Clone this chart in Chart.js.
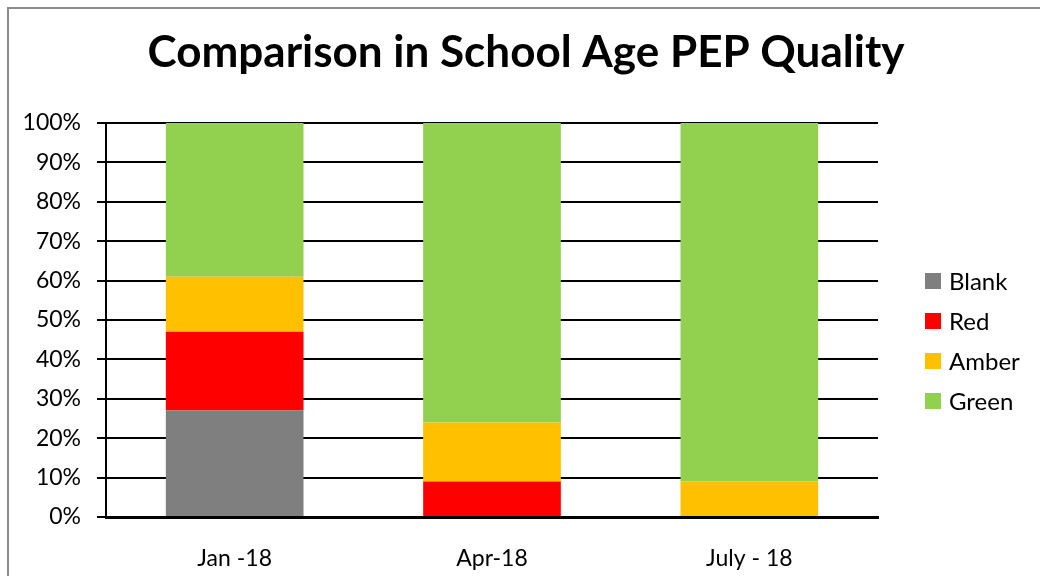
<!DOCTYPE html>
<html>
<head>
<meta charset="utf-8">
<script src="https://cdn.jsdelivr.net/npm/chart.js@4/dist/chart.umd.min.js"></script>
<style>
  html, body { margin: 0; padding: 0; background: #fff; overflow: hidden; }
  #wrap { position: relative; width: 1040px; height: 576px; }
  #frame { position: absolute; left: 7px; top: 7px; width: 1100px; height: 700px; border: 2px solid #8c8c8c; box-sizing: border-box; }
  canvas { position: absolute; left: 0; top: 0; }
</style>
</head>
<body>
<div id="wrap">
  <div id="frame"></div>
  <canvas id="chart" width="1040" height="576"></canvas>
</div>
<script>
const chartTitle = 'Comparison in School Age PEP Quality';
const months = ['Jan -18', 'Apr-18', 'July - 18'];
const seriesNames = ['Blank', 'Red', 'Amber', 'Green'];
const blank = [27, 0, 0];
const red = [20, 9, 0];
const amber = [14, 15, 9];
const green = [39, 76, 91];
const colors = ['#7f7f7f', '#ff0000', '#ffc000', '#92d050'];

const FONT = 'Lato, "Open Sans", sans-serif';

// title + legend drawn by hand to match the spreadsheet layout
const decorPlugin = {
    id: 'decor',
    afterDraw(chart) {
        const ctx = chart.ctx;
        const area = chart.chartArea;
        ctx.save();
        ctx.fillStyle = '#000';
        ctx.font = 'bold 44px ' + FONT;
        ctx.textAlign = 'center';
        ctx.textBaseline = 'middle';
        ctx.fillText(chartTitle, 526, 53);

        ctx.font = '24px ' + FONT;
        ctx.textAlign = 'left';
        chart.data.datasets.forEach((ds, i) => {
            const y = area.top + 158 + i * 40;
            ctx.fillStyle = ds.backgroundColor;
            ctx.fillRect(925, y - 8, 16, 16);
            ctx.fillStyle = '#000';
            ctx.fillText(ds.label, 949, y + 1);
        });
        ctx.restore();
    }
};

const datasets = [blank, red, amber, green].map((vals, i) => ({
    label: seriesNames[i],
    data: vals,
    backgroundColor: colors[i],
    borderWidth: 0,
    categoryPercentage: 1,
    barPercentage: 0.535
}));

new Chart(document.getElementById('chart'), {
    type: 'bar',
    plugins: [decorPlugin],
    data: { labels: months, datasets },
    options: {
        responsive: false,
        animation: false,
        layout: { padding: { top: 123, right: 162, bottom: 0, left: 0 } },
        plugins: { legend: { display: false }, title: { display: false }, tooltip: { enabled: false } },
        scales: {
            x: {
                stacked: true,
                grid: { display: false },
                border: { display: true, color: '#000', width: 3 },
                ticks: { color: '#000', font: { family: FONT, size: 23 }, padding: 20 },
                afterFit(s) { s.height = 59; }
            },
            y: {
                stacked: true,
                min: 0,
                max: 100,
                grid: { color: '#000', lineWidth: 2, tickLength: 9 },
                border: { display: true, color: '#000', width: 2 },
                ticks: {
                    stepSize: 10,
                    color: '#000',
                    font: { family: FONT, size: 23 },
                    padding: 16,
                    callback: v => v + '%'
                },
                afterFit(s) { s.width = 106; }
            }
        }
    }
});
</script>
</body>
</html>
